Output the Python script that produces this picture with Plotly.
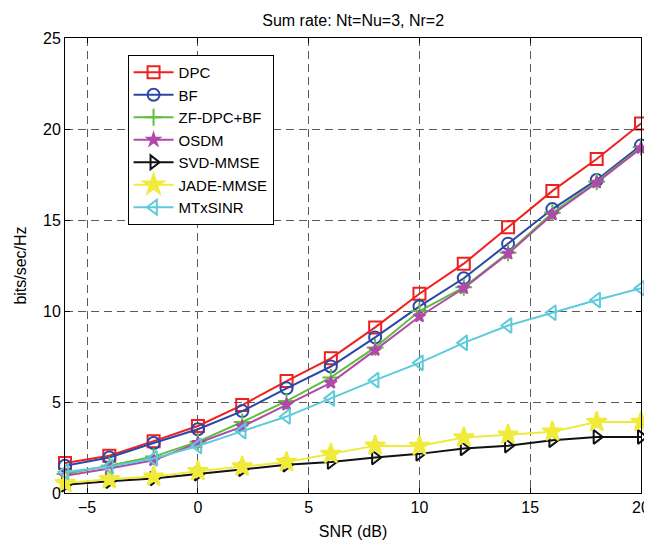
import plotly.graph_objects as go

snr = [-6, -4, -2, 0, 2, 4, 6, 8, 10, 12, 14, 16, 18, 20]
dpc = [1.65, 2.05, 2.85, 3.68, 4.83, 6.15, 7.4, 9.1, 10.95, 12.6, 14.6, 16.6, 18.35, 20.3]
bf = [1.5, 1.95, 2.75, 3.5, 4.5, 5.75, 6.95, 8.55, 10.25, 11.8, 13.7, 15.6, 17.2, 19.1]
zf = [1.05, 1.5, 2.0, 2.82, 3.9, 5.05, 6.35, 8.0, 10.0, 11.3, 13.2, 15.4, 17.1, 19.0]
osdm = [0.95, 1.35, 1.8, 2.75, 3.65, 4.85, 6.05, 7.85, 9.7, 11.25, 13.15, 15.3, 17.05, 18.95]
svd = [0.45, 0.65, 0.8, 1.05, 1.3, 1.55, 1.7, 1.95, 2.15, 2.45, 2.6, 2.9, 3.08, 3.08]
jade = [0.55, 0.75, 0.9, 1.2, 1.45, 1.7, 2.15, 2.6, 2.58, 3.05, 3.2, 3.37, 3.9, 3.9]
mtx = [1.15, 1.45, 1.9, 2.58, 3.4, 4.2, 5.2, 6.2, 7.15, 8.25, 9.2, 9.9, 10.6, 11.25]

names = ["DPC", "BF", "ZF-DPC+BF", "OSDM", "SVD-MMSE", "JADE-MMSE", "MTxSINR"]
series = [dpc, bf, zf, osdm, svd, jade, mtx]
colors = ["#ee2020", "#2b47a8", "#5fbf3a", "#b04aa8", "#111111", "#f0ea3a", "#5ccbdc"]
symbols = ["square-open", "circle-open", "cross-thin-open", "star", "triangle-right-open", "star", "triangle-left-open"]
sizes = [12, 12, 12, 9, 12, 15, 13]

fig = go.Figure()
for n, ys, c, s, sz in zip(names, series, colors, symbols, sizes):
    fig.add_trace(go.Scatter(
        x=snr, y=ys, name=n, mode="lines+markers",
        line=dict(color=c, width=2),
        marker=dict(symbol=s, size=sz, color=c, line=dict(color=c, width=2)),
        cliponaxis=False,
    ))

axis_common = dict(
    showline=True, linecolor="black", linewidth=1, mirror="ticks",
    ticks="inside", ticklen=5, tickcolor="black",
    showgrid=True, gridcolor="#5a5a5a", griddash="8px,5px", gridwidth=1,
    zeroline=False, tickfont=dict(size=16, color="black"), automargin=False,
    ticklabeloverflow="allow",
)
fig.update_layout(
    width=644, height=535,
    margin=dict(l=57, r=11, t=30, b=50),
    paper_bgcolor="white", plot_bgcolor="white",
    font=dict(family="Liberation Sans, Arial, sans-serif", color="black"),
    title=dict(text="Sum rate: Nt=Nu=3, Nr=2", x=0.536, xanchor="center", y=0.976, yanchor="middle",
               font=dict(size=16)),
    xaxis=dict(range=[-6, 20], tickvals=[-5, 0, 5, 10, 15, 20],
               title=dict(text="SNR (dB)", font=dict(size=16), standoff=10), **axis_common),
    yaxis=dict(range=[0, 25], tickvals=[0, 5, 10, 15, 20, 25],
               title=dict(text="bits/sec/Hz", font=dict(size=16), standoff=12), **axis_common),
    legend=dict(x=0.1086, y=0.9626, xanchor="left", yanchor="top",
                bgcolor="white", bordercolor="black", borderwidth=1,
                font=dict(size=15), tracegroupgap=0, itemwidth=40),
    showlegend=True,
)
fig.write_html("out.html")
